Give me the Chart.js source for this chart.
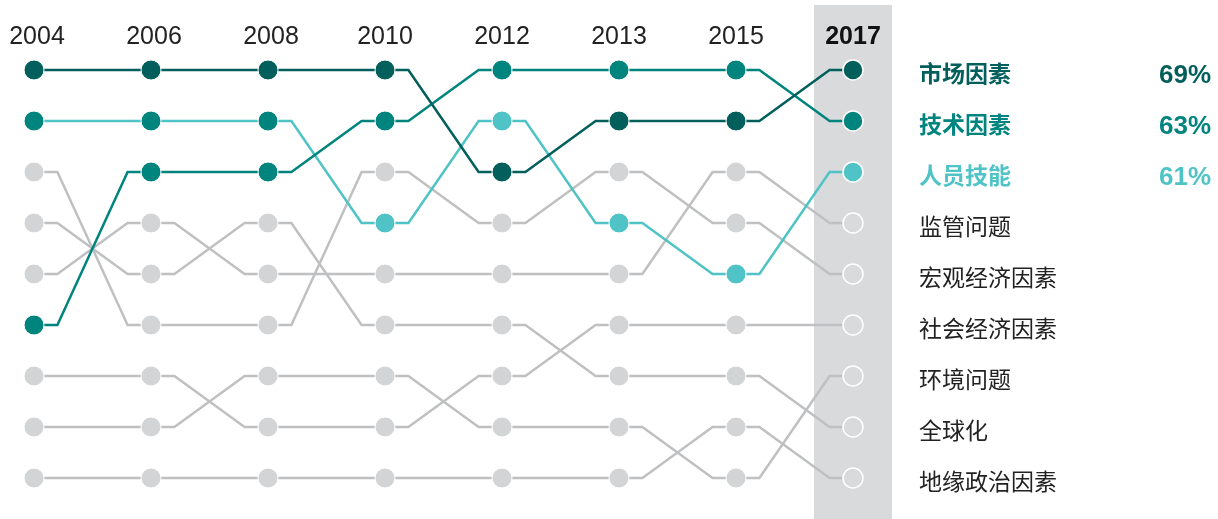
<!DOCTYPE html>
<html>
<head>
<meta charset="utf-8">
<script src="https://cdn.jsdelivr.net/npm/chart.js@4/dist/chart.umd.min.js"></script>
<style>
  html, body { margin: 0; padding: 0; background: #fff; }
  #wrap { width: 1218px; height: 519px; position: relative; }
</style>
</head>
<body>
<div id="wrap"><canvas id="myChart"></canvas></div>
<script>
// years across the top
var years = ['2004', '2006', '2008', '2010', '2012', '2013', '2015', '2017'];

// categories (in 2017 order) and their rank in each year
var categories = ['市场因素', '技术因素', '人员技能', '监管问题', '宏观经济因素', '社会经济因素', '环境问题', '全球化', '地缘政治因素'];
var rankMarket     = [1, 1, 1, 1, 3, 2, 2, 1];
var rankTech       = [6, 3, 3, 2, 1, 1, 1, 2];
var rankSkills     = [2, 2, 2, 4, 2, 4, 5, 3];
var rankRegulation = [5, 4, 5, 5, 5, 5, 3, 4];
var rankMacro      = [3, 6, 6, 3, 4, 3, 4, 5];
var rankSocial     = [7, 7, 8, 8, 7, 6, 6, 6];
var rankEnviron    = [8, 8, 7, 7, 8, 8, 9, 7];
var rankGlobal     = [4, 5, 4, 6, 6, 7, 7, 8];
var rankGeo        = [9, 9, 9, 9, 9, 9, 8, 9];
var ranks = [rankMarket, rankTech, rankSkills, rankRegulation, rankMacro, rankSocial, rankEnviron, rankGlobal, rankGeo];

// 2017 share for the top three
var percents = ['69%', '63%', '61%'];

var DARK = '#035f5b', TEAL = '#00847e', CYAN = '#4fc3c6';
var GRAY_LINE = '#bfc0c2', GRAY_DOT = '#d3d4d6', BAND = '#d9dadc';
var lineColors = [DARK, TEAL, CYAN, GRAY_LINE, GRAY_LINE, GRAY_LINE, GRAY_LINE, GRAY_LINE, GRAY_LINE];
var textColors = [DARK, TEAL, CYAN, '#222', '#222', '#222', '#222', '#222', '#222'];
var last = years.length - 1;
var step = 0.2; // short flat run either side of a dot

// dot colours: the 人员技能 dots before 2010 sit in teal
function dotColor(c, i) {
  if (c === 0) return DARK;
  if (c === 1) return TEAL;
  if (c === 2) return i < 3 ? TEAL : CYAN;
  return i === last ? BAND : GRAY_DOT;
}

var datasets = [];
for (var c = 0; c < categories.length; c++) {
  var r = ranks[c];
  var pts = [];
  for (var i = 0; i < r.length; i++) {
    if (i > 0) pts.push({x: i - step, y: r[i]});
    pts.push({x: i, y: r[i], dot: true, col: dotColor(c, i), yr: i});
    if (i < last) pts.push({x: i + step, y: r[i]});
  }
  datasets.push({
    label: categories[c],
    data: pts,
    borderColor: lineColors[c],
    borderWidth: 2.5,
    tension: 0,
    clip: false,
    pointRadius: function(ctx) { return ctx.raw && ctx.raw.dot ? 10 : 0; },
    pointHoverRadius: function(ctx) { return ctx.raw && ctx.raw.dot ? 10 : 0; },
    pointBackgroundColor: function(ctx) { return ctx.raw ? ctx.raw.col : GRAY_DOT; },
    pointBorderColor: '#fff',
    pointBorderWidth: function(ctx) { return ctx.raw && ctx.raw.yr === last ? 1.5 : 1; }
  });
}

var decor = {
  id: 'decor',
  beforeDatasetsDraw: function(chart) {
    var ctx = chart.ctx, xs = chart.scales.x;
    var cx = xs.getPixelForValue(last);
    ctx.save();
    ctx.fillStyle = BAND;
    ctx.fillRect(cx - 39, 5, 78, chart.height - 5);
    ctx.restore();
  },
  afterDatasetsDraw: function(chart) {
    var ctx = chart.ctx, xs = chart.scales.x, ys = chart.scales.y;
    ctx.save();
    ctx.textAlign = 'center';
    ctx.textBaseline = 'alphabetic';
    for (var i = 0; i < years.length; i++) {
      ctx.font = (i === last ? 'bold ' : '') + '25px "Liberation Sans", Arial, sans-serif';
      ctx.fillStyle = i === last ? '#111' : '#222';
      ctx.fillText(years[i], xs.getPixelForValue(i) + (i < 3 ? 3 : 0), 44);
    }
    ctx.textAlign = 'left';
    ctx.textBaseline = 'middle';
    for (var k = 0; k < categories.length; k++) {
      var y = ys.getPixelForValue(k + 1);
      ctx.fillStyle = textColors[k];
      ctx.font = (k < 3 ? 'bold ' : '') + '23px "Noto Sans CJK SC", sans-serif';
      ctx.fillText(categories[k], 919, y + 3);
      if (k < percents.length) {
        ctx.font = 'bold 26px "Liberation Sans", Arial, sans-serif';
        ctx.fillText(percents[k], 1159, y + 6);
      }
    }
    ctx.restore();
  }
};

var ctx = document.getElementById('myChart').getContext('2d');
var myChart = new Chart(ctx, {
  type: 'line',
  data: { datasets: datasets },
  options: {
    responsive: true,
    maintainAspectRatio: false,
    animation: { duration: 0 },
    events: [],
    layout: { padding: { left: 34, right: 365, top: 70, bottom: 41 } },
    scales: {
      x: { type: 'linear', min: 0, max: last, display: false },
      y: { type: 'linear', min: 1, max: 9, reverse: true, display: false }
    },
    plugins: { legend: { display: false }, tooltip: { enabled: false } }
  },
  plugins: [decor]
});
</script>
</body>
</html>
